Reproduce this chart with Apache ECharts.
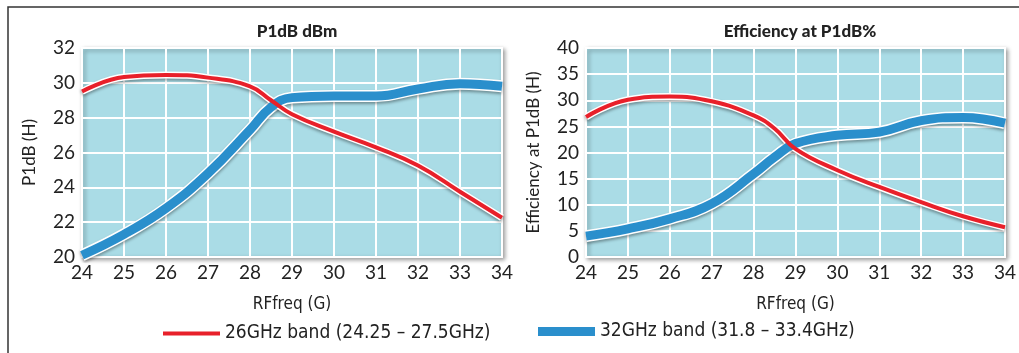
<!DOCTYPE html>
<html><head><meta charset="utf-8">
<script src="https://cdn.jsdelivr.net/npm/echarts@6/dist/echarts.min.js"></script>
<style>html,body{margin:0;padding:0;background:#fff}#c{width:1019px;height:353px}</style>
</head><body><div id="c"></div>
<script>
const freq = [24, 25, 26, 27, 28, 28.5, 29, 30, 31, 32, 33, 34];
const p1dB26 = [29.5, 30.33, 30.45, 30.3, 29.8, 29.0, 28.2, 27.2, 26.3, 25.25, 23.75, 22.25];
const p1dB32 = [20.1, 21.3, 22.8, 24.8, 27.3, 28.6, 29.15, 29.25, 29.25, 29.65, 29.95, 29.8];
const eff26 = [26.8, 30.1, 30.7, 29.8, 27.1, 24.6, 20.7, 16.6, 13.4, 10.5, 7.8, 5.7];
const eff32 = [4.0, 5.4, 7.3, 10.2, 15.9, 19.1, 21.7, 23.3, 23.9, 26.1, 26.7, 25.6];
const xTicks = [24, 25, 26, 27, 28, 29, 30, 31, 32, 33, 34];
const titles = ['P1dB dBm', 'Efficiency at P1dB%'];
const yNames = ['P1dB (H)', 'Efficiency at P1dB (H)'];
const xName = 'RFfreq (G)';
const names = ['26GHz band (24.25 – 27.5GHz)', '32GHz band (31.8 – 33.4GHz)'];

const RED = '#e8202a', BLUE = '#2a8fcc', BG = '#aadce6';
const font = 'Lato, "Open Sans", sans-serif';
const cond = '"DejaVu Sans Condensed", "Liberation Sans Narrow", sans-serif';
const pairs = (ys) => freq.map((x, i) => [x, ys[i]]);

const gridBase = {top: 48, bottom: 96, show: true, backgroundColor: BG, borderColor: '#fff', borderWidth: 2,
  shadowColor: 'rgba(0,0,0,0.35)', shadowBlur: 4, shadowOffsetX: 2, shadowOffsetY: 2};
const xAxisBase = (gi) => ({type: 'value', gridIndex: gi, min: 24, max: 34, interval: 1,
  name: xName, nameLocation: 'middle', nameGap: 39,
  nameTextStyle: {fontFamily: cond, fontSize: 17, color: '#222'},
  axisLine: {show: false}, axisTick: {show: false},
  axisLabel: {fontFamily: font, fontSize: 19, color: '#222', margin: 6},
  splitLine: {show: true, lineStyle: {color: '#fff', width: 2}}});
const yAxisBase = (gi, min, max, iv, name) => ({type: 'value', gridIndex: gi, min: min, max: max, interval: iv,
  name: name, nameLocation: 'middle', nameGap: 44, nameRotate: 90,
  nameTextStyle: {fontFamily: font, fontSize: 17, color: '#222'},
  axisLine: {show: false}, axisTick: {show: false},
  axisLabel: {fontFamily: font, fontSize: 19, color: '#222', margin: 7},
  splitLine: {show: true, lineStyle: {color: '#fff', width: 2}}});

function lineSeries(name, data, gi, color, w, under) {
  return {name: under ? '' : name, type: 'line', xAxisIndex: gi, yAxisIndex: gi, data: pairs(data),
    smooth: 0.45, showSymbol: false, symbol: 'none', silent: true, z: under ? 2 : 3,
    itemStyle: {color: under ? '#fff' : color},
    lineStyle: under ? {color: '#fff', width: w + 3, shadowColor: 'rgba(0,0,0,0.35)', shadowBlur: 3, shadowOffsetY: 2}
                     : {color: color, width: w}};
}

const chart = echarts.init(document.getElementById('c'), null, {renderer: 'canvas'});
chart.setOption({
  animation: false,
  backgroundColor: '#fff',
  graphic: [{type: 'rect', shape: {x: 8, y: 7, width: 1100, height: 400}, style: {fill: 'none', stroke: '#333', lineWidth: 1.5}, z: -10}],
  title: [
    {text: titles[0], left: 292, top: 18, textAlign: 'center', textStyle: {fontFamily: font, fontWeight: 900, fontSize: 17, color: '#222'}},
    {text: titles[1], left: 795, top: 18, textAlign: 'center', textStyle: {fontFamily: font, fontWeight: 900, fontSize: 17, color: '#222'}}
  ],
  legend: [
    {data: [names[0]], left: 158, top: 319, icon: 'rect', itemWidth: 57, itemHeight: 4, itemGap: 8,
      textStyle: {fontFamily: cond, fontSize: 19, color: '#222'}},
    {data: [names[1]], left: 533, top: 317, icon: 'rect', itemWidth: 57, itemHeight: 9, itemGap: 8,
      textStyle: {fontFamily: cond, fontSize: 19, color: '#222'}}
  ],
  grid: [Object.assign({left: 82, right: 517}, gridBase), Object.assign({left: 586, right: 12}, gridBase)],
  xAxis: [xAxisBase(0), xAxisBase(1)],
  yAxis: [yAxisBase(0, 20, 32, 2, yNames[0]), yAxisBase(1, 0, 40, 5, yNames[1])],
  series: [
    lineSeries(names[1], p1dB32, 0, BLUE, 9, true),
    lineSeries(names[1], p1dB32, 0, BLUE, 9, false),
    lineSeries(names[0], p1dB26, 0, RED, 4, true),
    lineSeries(names[0], p1dB26, 0, RED, 4, false),
    lineSeries(names[1], eff32, 1, BLUE, 9, true),
    lineSeries(names[1], eff32, 1, BLUE, 9, false),
    lineSeries(names[0], eff26, 1, RED, 4, true),
    lineSeries(names[0], eff26, 1, RED, 4, false)
  ]
});
</script></body></html>
